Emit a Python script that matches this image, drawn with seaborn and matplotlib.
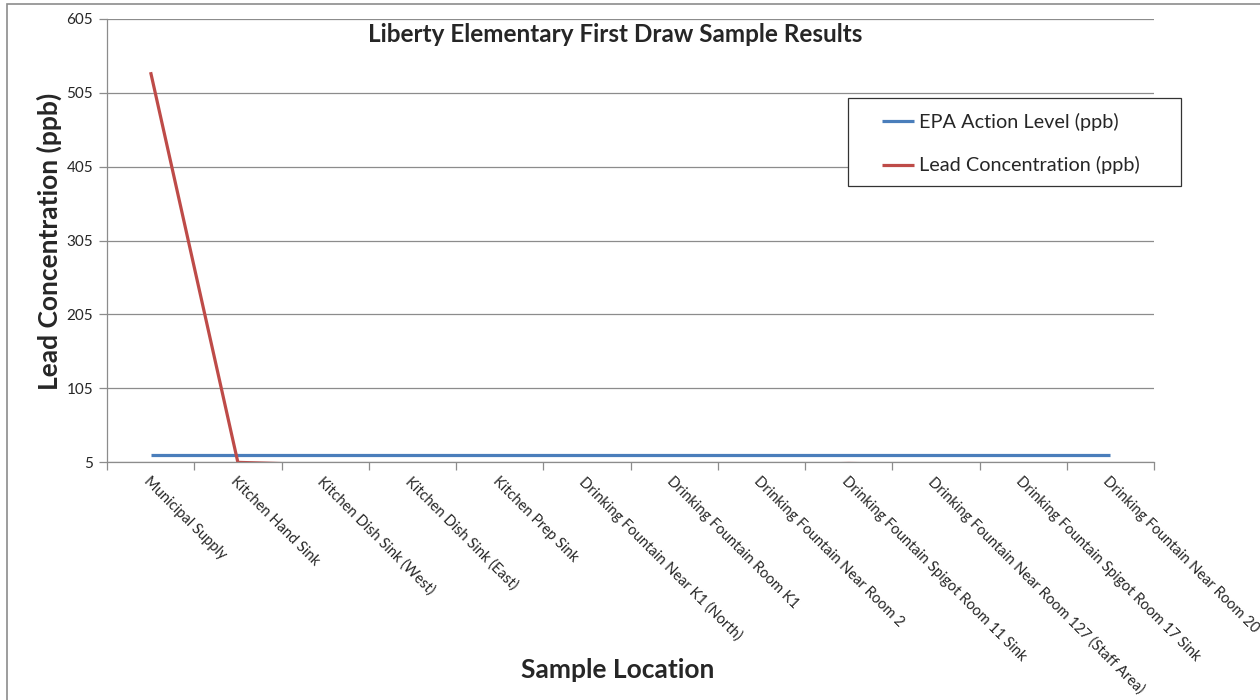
import matplotlib
matplotlib.use("Agg")
import matplotlib.pyplot as plt
import seaborn as sns
import pandas as pd
from matplotlib.patches import Rectangle

locations = [
    "Municipal Supply", "Kitchen Hand Sink", "Kitchen Dish Sink (West)",
    "Kitchen Dish Sink (East)", "Kitchen Prep Sink",
    "Drinking Fountain Near K1 (North)", "Drinking Fountain Room K1",
    "Drinking Fountain Near Room 2", "Drinking Fountain Spigot Room 11 Sink",
    "Drinking Fountain Near Room 127 (Staff Area)",
    "Drinking Fountain Spigot Room 17 Sink", "Drinking Fountain Near Room 20",
]
epa_level = [15] * 12
lead_conc = [533, 4.5, 1.2, 2.0, 1.5, 1.0, 2.5, 1.1, 3.0, 1.8, 2.2, 1.4]
y_ticks = [5, 105, 205, 305, 405, 505, 605]

sns.set_theme(style="white")
plt.rcParams['font.family'] = ['Lato', 'DejaVu Sans']

df = pd.DataFrame({"x": list(range(len(locations))), "epa": epa_level, "lead": lead_conc})

fig = plt.figure(figsize=(12.6, 7.0), dpi=100)
ax = fig.add_axes([107/1260, 1-462/700, (1154-107)/1260, (462-19)/700])

grid_c = "#8c8c8c"
sns.lineplot(data=df, x="x", y="epa", ax=ax, color="#4A7EBB", lw=2.3,
             label="EPA Action Level (ppb)", solid_capstyle="butt")
sns.lineplot(data=df, x="x", y="lead", ax=ax, color="#BE4B48", lw=2.3,
             label="Lead Concentration (ppb)", solid_capstyle="butt")

ax.set_xlim(-0.5, len(locations) - 0.5)
ax.set_ylim(5, 605)
ax.set_yticks(y_ticks)
ax.set_yticklabels([str(v) for v in y_ticks], fontsize=11)
ax.yaxis.grid(True, color=grid_c, lw=0.9)
ax.tick_params(axis='y', length=6, width=0.9, color=grid_c, pad=4, left=True)

ax.set_xticks([i - 0.5 for i in range(len(locations) + 1)])
ax.set_xticklabels([])
ax.set_xticks(list(range(len(locations))), minor=True)
ax.set_xticklabels(locations, minor=True, rotation=-45, ha='left', va='top',
                   rotation_mode='anchor', fontsize=10.5)
ax.tick_params(axis='x', which='major', length=6, width=0.9, color=grid_c, bottom=True)
ax.tick_params(axis='x', which='minor', length=0, pad=9)

for s in ["top", "right"]:
    ax.spines[s].set_visible(False)
for s in ["left", "bottom"]:
    ax.spines[s].set_color(grid_c)
    ax.spines[s].set_linewidth(0.9)

ax.set_xlabel("")
ax.set_ylabel("")
fig.text(49/1260, 1-241/700, "Lead Concentration (ppb)", rotation=90, fontsize=19,
         fontweight='bold', ha='center', va='center')
fig.text(618/1260, 1-670/700, "Sample Location", fontsize=19,
         fontweight='bold', ha='center', va='center')
fig.text(615/1260, 1-34/700, "Liberty Elementary First Draw Sample Results", fontsize=17.5,
         fontweight='bold', ha='center', va='center')

handles, labels = ax.get_legend_handles_labels()
ax.get_legend().remove()

fig.patches.append(Rectangle((848/1260, 1-186/700), (1181-848)/1260, (186-98)/700,
                             transform=fig.transFigure, fill=True, facecolor="white",
                             edgecolor="#333333", lw=0.9, zorder=4))
leg = fig.legend(handles, labels, loc='center left', bbox_to_anchor=(882/1260, 1-143.5/700),
                 bbox_transform=fig.transFigure, frameon=False,
                 fontsize=14.3, handlelength=1.6, labelspacing=1.3,
                 borderpad=0, handletextpad=0.25, borderaxespad=0)
leg.set_zorder(10)

fig.patches.append(Rectangle((7/1260, -0.1), 1.2, 1-4/700+0.1, transform=fig.transFigure,
                             fill=False, edgecolor="#8c8c8c", lw=1.2))

fig.savefig("out.png", dpi=100)
